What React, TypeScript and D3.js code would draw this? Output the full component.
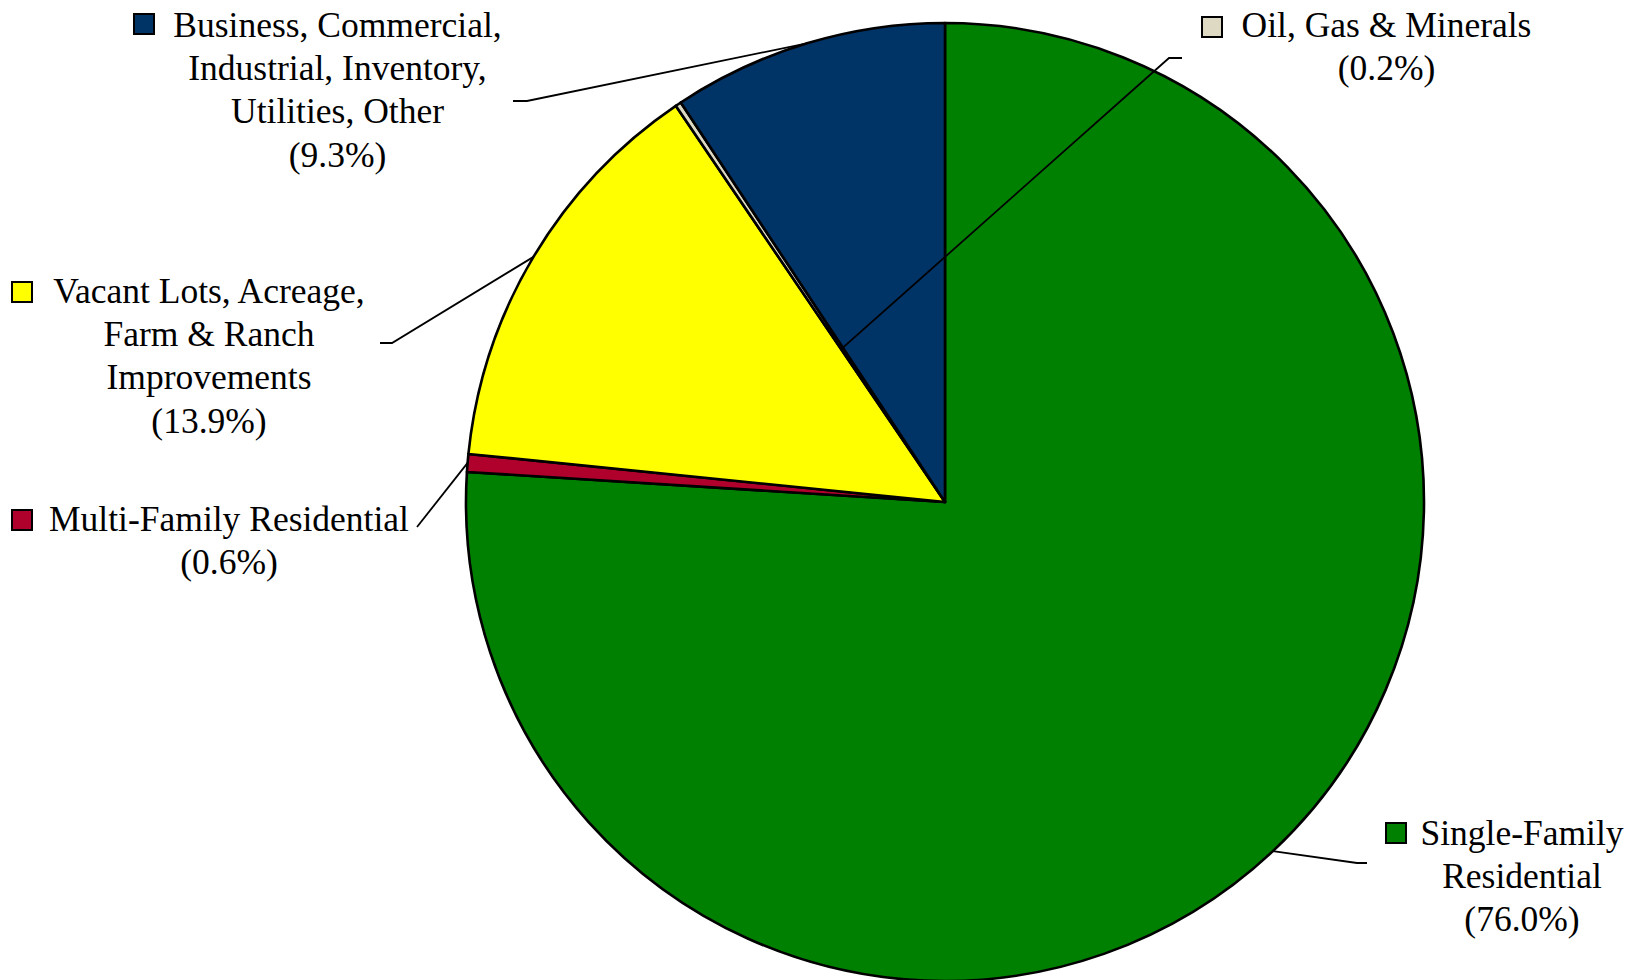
import * as d3 from "d3";
import * as React from "react";

// slice order runs clockwise from 12 o'clock
const categories = [
  "Single-Family Residential",
  "Multi-Family Residential",
  "Vacant Lots, Acreage, Farm & Ranch Improvements",
  "Oil, Gas & Minerals",
  "Business, Commercial, Industrial, Inventory, Utilities, Other",
];
const shares = [76.0, 0.6, 13.9, 0.2, 9.3];
const colors = ["#008000", "#B0002C", "#FFFF00", "#DDD9C3", "#003366"];
const labelLines = [
  ["Single-Family", "Residential", "(76.0%)"],
  ["Multi-Family Residential", "(0.6%)"],
  ["Vacant Lots, Acreage,", "Farm & Ranch", "Improvements", "(13.9%)"],
  ["Oil, Gas & Minerals", "(0.2%)"],
  ["Business, Commercial,", "Industrial, Inventory,", "Utilities, Other", "(9.3%)"],
];

const W = 1627;
const H = 980;
const cx = 945;
const cy = 502;
const R = 479;
const lineGap = 43.2;

// label placement: text centre, first baseline, key box corner, leader start (elbow) and depth of leader end
const layout = [
  { x: 1522, y: 845, kx: 1386, ky: 823, lead: [[1367, 863], [1357, 863]], depth: 1 },
  { x: 229, y: 531, kx: 12, ky: 510, lead: [[417, 527]], depth: 1 },
  { x: 209, y: 303, kx: 12, ky: 282, lead: [[380, 343], [392, 343]], depth: 1 },
  { x: 1386.5, y: 37, kx: 1202, ky: 17, lead: [[1182, 58], [1169, 58]], depth: 0.386 },
  { x: 337.5, y: 37, kx: 134, ky: 14, lead: [[513, 101], [527, 101]], depth: 1 },
];

export default function App() {
  const pie = d3.pie<number>().sort(null).value(d => d)(shares);
  const arc = d3.arc<d3.PieArcDatum<number>>().innerRadius(0).outerRadius(R);

  return (
    <svg
      width={W}
      height={H}
      style={{ position: "absolute", left: 0, top: 0, background: "#fff", fontFamily: "'Liberation Serif', 'Times New Roman', serif" }}
    >
      <g transform={`translate(${cx},${cy})`}>
        {pie.map((d, i) => (
          <path key={i} d={arc(d)!} fill={colors[i]} stroke="#000" strokeWidth={2.6} strokeLinejoin="round" />
        ))}
      </g>
      {pie.map((d, i) => {
        const a = (d.startAngle + d.endAngle) / 2;
        const L = layout[i];
        const end: [number, number] = [cx + Math.sin(a) * R * L.depth, cy - Math.cos(a) * R * L.depth];
        const pts = [...L.lead, end] as [number, number][];
        return (
          <path key={"l" + i} d={d3.line()(pts)!} fill="none" stroke="#000" strokeWidth={1.8} />
        );
      })}
      {layout.map((L, i) => (
        <g key={"t" + i}>
          <rect x={L.kx} y={L.ky} width={20} height={20} fill={colors[i]} stroke="#000" strokeWidth={2} />
          {labelLines[i].map((s, j) => (
            <text key={j} x={L.x} y={L.y + j * lineGap} textAnchor="middle" fontSize={35.5} fill="#000">
              {s}
            </text>
          ))}
        </g>
      ))}
    </svg>
  );
}
